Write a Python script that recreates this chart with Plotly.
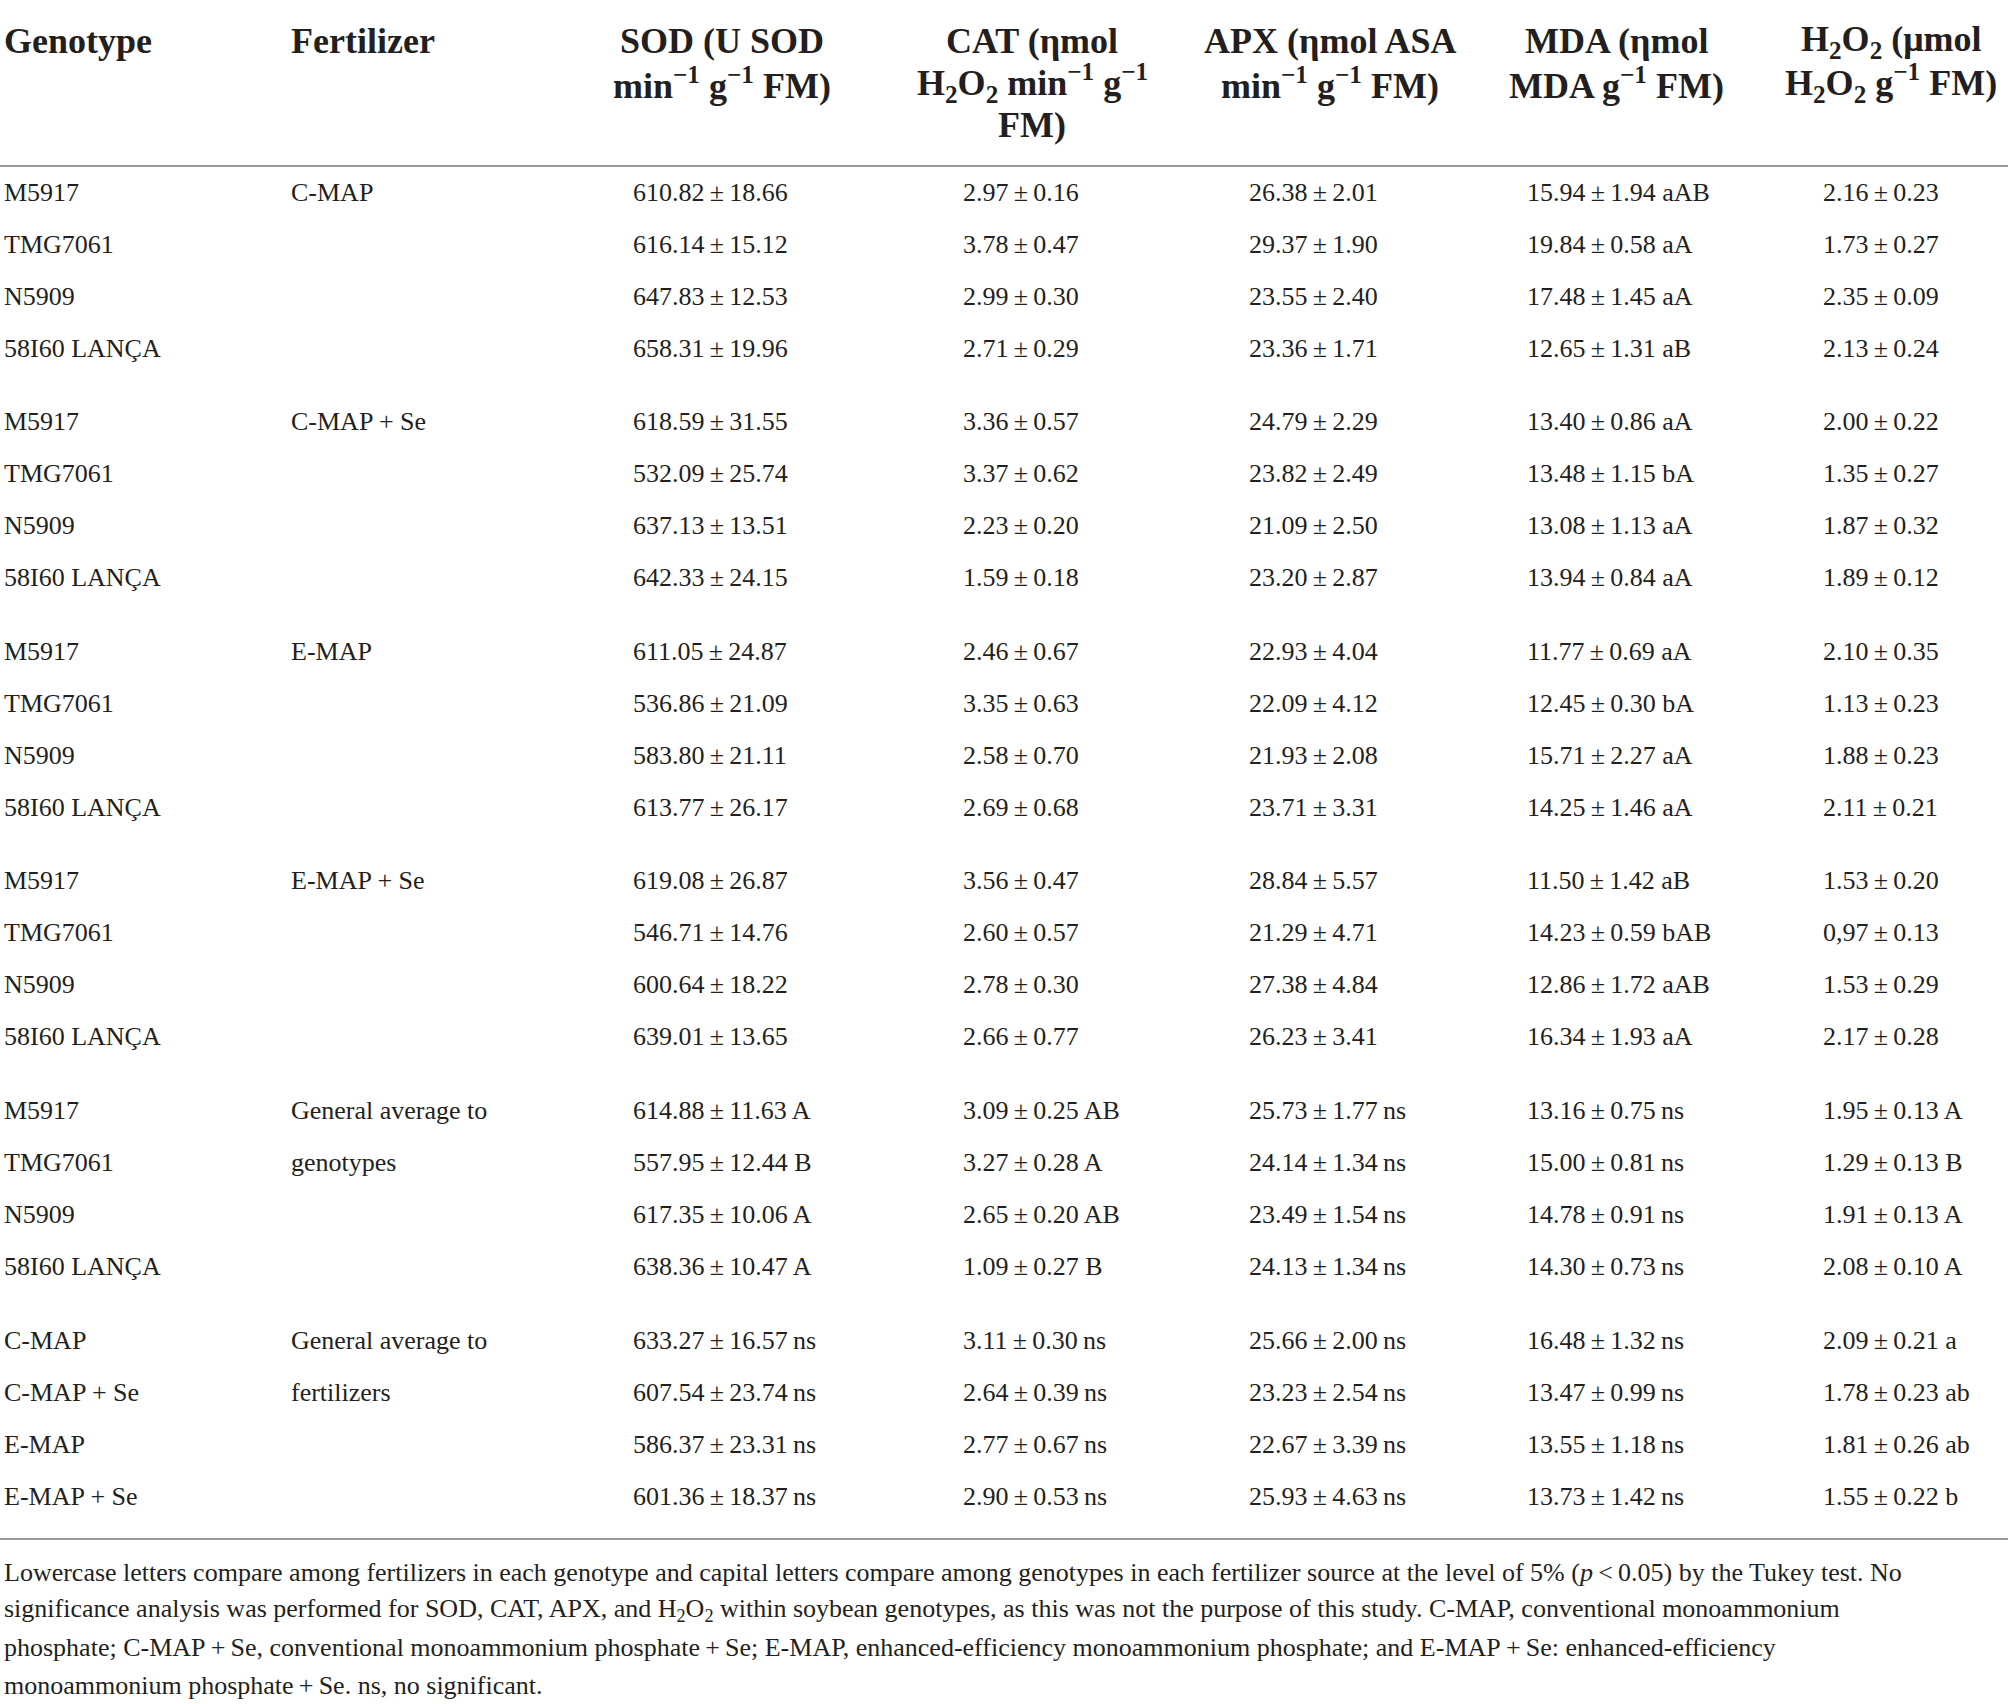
import plotly.graph_objects as go

# ---------------- data ----------------
genotypes = ["M5917", "TMG7061", "N5909", "58I60 LANÇA"]
fertilizers = ["C-MAP", "C-MAP + Se", "E-MAP", "E-MAP + Se"]
group_fert_label = [
    ["C-MAP"], ["C-MAP + Se"], ["E-MAP"], ["E-MAP + Se"],
    ["General average to", "genotypes"],
    ["General average to", "fertilizers"],
]

sod_mean = ["610.82", "616.14", "647.83", "658.31",
            "618.59", "532.09", "637.13", "642.33",
            "611.05", "536.86", "583.80", "613.77",
            "619.08", "546.71", "600.64", "639.01",
            "614.88", "557.95", "617.35", "638.36",
            "633.27", "607.54", "586.37", "601.36"]
sod_sd = ["18.66", "15.12", "12.53", "19.96",
          "31.55", "25.74", "13.51", "24.15",
          "24.87", "21.09", "21.11", "26.17",
          "26.87", "14.76", "18.22", "13.65",
          "11.63", "12.44", "10.06", "10.47",
          "16.57", "23.74", "23.31", "18.37"]
sod_sig = [""] * 16 + ["A", "B", "A", "A"] + ["ns"] * 4

cat_mean = ["2.97", "3.78", "2.99", "2.71",
            "3.36", "3.37", "2.23", "1.59",
            "2.46", "3.35", "2.58", "2.69",
            "3.56", "2.60", "2.78", "2.66",
            "3.09", "3.27", "2.65", "1.09",
            "3.11", "2.64", "2.77", "2.90"]
cat_sd = ["0.16", "0.47", "0.30", "0.29",
          "0.57", "0.62", "0.20", "0.18",
          "0.67", "0.63", "0.70", "0.68",
          "0.47", "0.57", "0.30", "0.77",
          "0.25", "0.28", "0.20", "0.27",
          "0.30", "0.39", "0.67", "0.53"]
cat_sig = [""] * 16 + ["AB", "A", "AB", "B"] + ["ns"] * 4

apx_mean = ["26.38", "29.37", "23.55", "23.36",
            "24.79", "23.82", "21.09", "23.20",
            "22.93", "22.09", "21.93", "23.71",
            "28.84", "21.29", "27.38", "26.23",
            "25.73", "24.14", "23.49", "24.13",
            "25.66", "23.23", "22.67", "25.93"]
apx_sd = ["2.01", "1.90", "2.40", "1.71",
          "2.29", "2.49", "2.50", "2.87",
          "4.04", "4.12", "2.08", "3.31",
          "5.57", "4.71", "4.84", "3.41",
          "1.77", "1.34", "1.54", "1.34",
          "2.00", "2.54", "3.39", "4.63"]
apx_sig = [""] * 16 + ["ns"] * 8

mda_mean = ["15.94", "19.84", "17.48", "12.65",
            "13.40", "13.48", "13.08", "13.94",
            "11.77", "12.45", "15.71", "14.25",
            "11.50", "14.23", "12.86", "16.34",
            "13.16", "15.00", "14.78", "14.30",
            "16.48", "13.47", "13.55", "13.73"]
mda_sd = ["1.94", "0.58", "1.45", "1.31",
          "0.86", "1.15", "1.13", "0.84",
          "0.69", "0.30", "2.27", "1.46",
          "1.42", "0.59", "1.72", "1.93",
          "0.75", "0.81", "0.91", "0.73",
          "1.32", "0.99", "1.18", "1.42"]
mda_sig = ["aAB", "aA", "aA", "aB",
           "aA", "bA", "aA", "aA",
           "aA", "bA", "aA", "aA",
           "aB", "bAB", "aAB", "aA"] + ["ns"] * 8

h2o2_mean = ["2.16", "1.73", "2.35", "2.13",
             "2.00", "1.35", "1.87", "1.89",
             "2.10", "1.13", "1.88", "2.11",
             "1.53", "0,97", "1.53", "2.17",
             "1.95", "1.29", "1.91", "2.08",
             "2.09", "1.78", "1.81", "1.55"]
h2o2_sd = ["0.23", "0.27", "0.09", "0.24",
           "0.22", "0.27", "0.32", "0.12",
           "0.35", "0.23", "0.23", "0.21",
           "0.20", "0.13", "0.29", "0.28",
           "0.13", "0.13", "0.13", "0.10",
           "0.21", "0.23", "0.26", "0.22"]
h2o2_sig = [""] * 16 + ["A", "B", "A", "A"] + ["a", "ab", "ab", "b"]

headers = [
    ["Genotype"],
    ["Fertilizer"],
    ["SOD (U SOD", "min<sup>−1</sup> g<sup>−1</sup> FM)"],
    ["CAT (ηmol", "H<sub>2</sub>O<sub>2</sub> min<sup>−1</sup> g<sup>−1</sup>", "FM)"],
    ["APX (ηmol ASA", "min<sup>−1</sup> g<sup>−1</sup> FM)"],
    ["MDA (ηmol", "MDA g<sup>−1</sup> FM)"],
    ["H<sub>2</sub>O<sub>2</sub> (μmol", "H<sub>2</sub>O<sub>2</sub> g<sup>−1</sup> FM)"],
]

footnote_lines = [
    "Lowercase letters compare among fertilizers in each genotype and capital letters compare among genotypes in each fertilizer source at the level of 5% (<i>p</i>\u2009&lt;\u20090.05) by the Tukey test. No",
    "significance analysis was performed for SOD, CAT, APX, and H<sub>2</sub>O<sub>2</sub> within soybean genotypes, as this was not the purpose of this study. C-MAP, conventional monoammonium",
    "phosphate; C-MAP\u2009+\u2009Se, conventional monoammonium phosphate\u2009+\u2009Se; E-MAP, enhanced-efficiency monoammonium phosphate; and E-MAP\u2009+\u2009Se: enhanced-efficiency",
    "monoammonium phosphate\u2009+\u2009Se. ns, no significant.",
]

# ---------------- layout constants ----------------
W, H = 2008, 1704
TXT = "#231f20"
FONT = "Liberation Serif"
BODY = 26
HEAD = 36
NOTE = 26

label_x = [2, 289]
data_x = [631, 961, 1247, 1525, 1821]
head_cx = [722, 1032, 1330, 1616, 1891]
head_line_y = [41, 83, 125]
row_y0, row_dy, group_gap = 192, 52, 21.6
rule_top, rule_bottom = 166, 1539
note_y0, note_dy = 1572, 37.7


def row_y(i):
    g, r = divmod(i, 4)
    return row_y0 + i * row_dy + g * group_gap


def cell(mean, sd, sig):
    s = f"{mean}\u2009±\u2009{sd}"
    if sig == "ns":
        s += "\u2009ns"
    elif sig:
        s += " " + sig
    return s


ann = []

def add(text, x, y, anchor="left", size=BODY, bold=False):
    ann.append(dict(
        text=text,
        x=x, y=y, xref="x", yref="y", xanchor=anchor, yanchor="middle",
        showarrow=False, align=anchor if anchor != "center" else "center",
        font=dict(family=FONT, size=size, color=TXT,
                  weight="bold" if bold else "normal"),
    ))

# headers
for ci, lines in enumerate(headers):
    for li, t in enumerate(lines):
        y = head_line_y[li]
        if ci < 2:
            add(t, label_x[ci], y, "left", HEAD, True)
        else:
            add(t, head_cx[ci - 2], y, "center", HEAD, True)

# body
n_rows = len(sod_mean)
cols = [(sod_mean, sod_sd, sod_sig), (cat_mean, cat_sd, cat_sig),
        (apx_mean, apx_sd, apx_sig), (mda_mean, mda_sd, mda_sig),
        (h2o2_mean, h2o2_sd, h2o2_sig)]
for i in range(n_rows):
    g, r = divmod(i, 4)
    y = row_y(i)
    gen = fertilizers[r] if g == 5 else genotypes[r]
    add(gen, label_x[0], y)
    if r < len(group_fert_label[g]):
        add(group_fert_label[g][r], label_x[1], y)
    for ci, (m, s, sg) in enumerate(cols):
        add(cell(m[i], s[i], sg[i]), data_x[ci], y)

# footnote
for li, t in enumerate(footnote_lines):
    add(t, 2, note_y0 + li * note_dy, "left", NOTE)

shapes = [
    dict(type="line", xref="x", yref="y", x0=0, x1=W, y0=rule_top, y1=rule_top,
         line=dict(color="#9a9a9a", width=2)),
    dict(type="line", xref="x", yref="y", x0=0, x1=W, y0=rule_bottom, y1=rule_bottom,
         line=dict(color="#9a9a9a", width=2)),
]

fig = go.Figure()
fig.add_trace(go.Scatter(x=[0, W], y=[0, H], mode="markers",
                         marker=dict(opacity=0), hoverinfo="skip", showlegend=False))
fig.update_layout(
    width=W, height=H, margin=dict(l=0, r=0, t=0, b=0),
    paper_bgcolor="white", plot_bgcolor="white",
    xaxis=dict(range=[0, W], visible=False, fixedrange=True),
    yaxis=dict(range=[H, 0], visible=False, fixedrange=True),
    annotations=ann, shapes=shapes, showlegend=False,
)
fig.write_html("out.html", config={"displayModeBar": False},
               post_script="document.body.style.margin='0';document.body.style.overflow='hidden';")
